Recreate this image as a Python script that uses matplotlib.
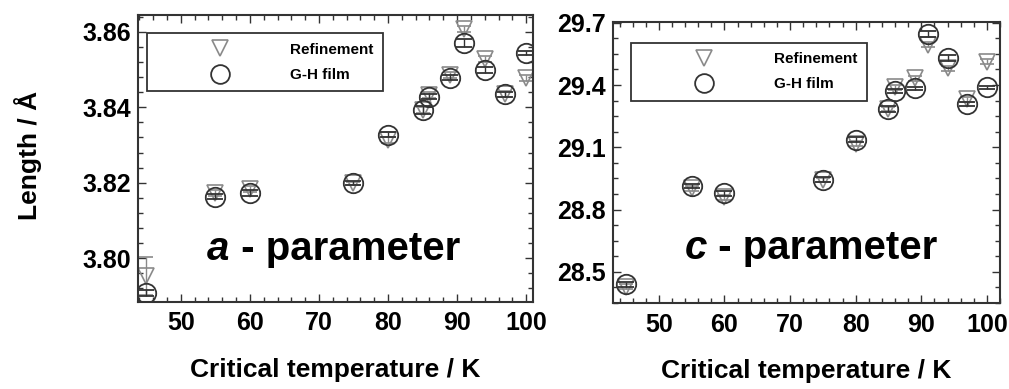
import matplotlib
matplotlib.use("Agg")
import matplotlib.pyplot as plt
from matplotlib.lines import Line2D
from matplotlib.ticker import MultipleLocator, FormatStrFormatter

plt.rcParams['font.family'] = ['Liberation Sans', 'DejaVu Sans']
plt.rcParams['font.weight'] = 'bold'

# critical temperature (K)
tc = [45, 55, 60, 75, 80, 85, 86, 89, 91, 94, 97, 100]

# a-parameter (Angstrom)
a_ref = [3.7953, 3.8172, 3.8183, 3.8199, 3.8313, 3.8393, 3.8433, 3.8486, 3.8607, 3.8527, 3.8436, 3.8477]
a_ref_err = [0.0050, 0.0008, 0.0008, 0.0004, 0.0008, 0.0008, 0.0008, 0.0008, 0.0008, 0.0008, 0.0008, 0.0008]
a_gh = [3.7909, 3.8163, 3.8174, 3.8199, 3.8327, 3.8393, 3.8428, 3.8478, 3.8570, 3.8499, 3.8434, 3.8543]
a_gh_err = [0.0008, 0.0006, 0.0008, 0.0006, 0.0006, 0.0010, 0.0006, 0.0006, 0.0010, 0.0008, 0.0006, 0.0006]

# c-parameter (Angstrom)
c_ref = [28.429, 28.903, 28.860, 28.943, 29.116, 29.285, 29.389, 29.432, 29.593, 29.481, 29.331, 29.513]
c_ref_err = [0.012, 0.012, 0.012, 0.008, 0.012, 0.010, 0.012, 0.012, 0.012, 0.012, 0.012, 0.012]
c_gh = [28.441, 28.915, 28.879, 28.943, 29.136, 29.285, 29.373, 29.384, 29.644, 29.529, 29.307, 29.389]
c_gh_err = [0.012, 0.010, 0.012, 0.012, 0.012, 0.014, 0.010, 0.008, 0.014, 0.014, 0.010, 0.006]

ref_color = '#8a8a8a'
gh_color = '#333333'

fig = plt.figure(figsize=(10.09, 3.89), dpi=100)
ax1 = fig.add_axes([0.1368, 0.2244, 0.3915, 0.737])
ax2 = fig.add_axes([0.6075, 0.2211, 0.3836, 0.7231])


def draw(ax, ref, ref_err, gh, gh_err):
    ax.errorbar(tc, ref, yerr=ref_err, fmt='v', ms=12, mfc='none', mec=ref_color, mew=1.2,
                ecolor=ref_color, elinewidth=1, capsize=5, capthick=1.2, zorder=2)
    ax.errorbar(tc, gh, yerr=gh_err, fmt='o', ms=14, mfc='none', mec=gh_color, mew=1.3,
                ecolor=gh_color, elinewidth=1, capsize=5.5, capthick=1.2, zorder=3)
    for s in ax.spines.values():
        s.set_linewidth(1.5)
        s.set_color('#333333')
    ax.tick_params(which='both', direction='in', top=True, right=True, width=1, color='#333333')
    ax.tick_params(which='major', length=6, labelsize=18)
    ax.tick_params(which='minor', length=3.5)
    ax.tick_params(axis='x', pad=7)
    ax.tick_params(axis='y', pad=5)
    ax.xaxis.set_major_locator(MultipleLocator(10))
    ax.xaxis.set_minor_locator(MultipleLocator(2))
    ax.set_xlabel('Critical temperature / K', fontsize=19, fontweight='bold', labelpad=16)


draw(ax1, a_ref, a_ref_err, a_gh, a_gh_err)
ax1.set_xlim(43.8, 101)
ax1.set_ylim(3.7885, 3.8644)
ax1.yaxis.set_major_locator(MultipleLocator(0.02))
ax1.yaxis.set_minor_locator(MultipleLocator(0.004))
ax1.yaxis.set_major_formatter(FormatStrFormatter('%.2f'))

draw(ax2, c_ref, c_ref_err, c_gh, c_gh_err)
ax2.set_xlim(43, 102)
ax2.set_ylim(28.35, 29.705)
ax2.yaxis.set_major_locator(MultipleLocator(0.3))
ax2.yaxis.set_minor_locator(MultipleLocator(0.075))
ax2.yaxis.set_major_formatter(FormatStrFormatter('%.1f'))

handles = [
    Line2D([], [], ls='none', marker='v', ms=12, mfc='none', mec=ref_color, mew=1.2),
    Line2D([], [], ls='none', marker='o', ms=13.5, mfc='none', mec=gh_color, mew=1.3),
]
labels = ['Refinement', 'G-H film']
for ax, anchor in [(ax1, (0.022, 0.936)), (ax2, (0.0457, 0.925))]:
    leg = ax.legend(handles, labels, loc='upper left', bbox_to_anchor=anchor, borderaxespad=0,
                    fancybox=False, framealpha=1, edgecolor='#333333',
                    prop={'size': 11, 'weight': 'bold'},
                    borderpad=0.6, handlelength=8.4, handletextpad=0.4, labelspacing=0.75)
    leg.get_frame().set_linewidth(1.3)

for ax, letter, pos in [(ax1, 'a', (0.175, 0.118)), (ax2, 'c', (0.186, 0.128))]:
    t = ax.text(pos[0], pos[1], letter, transform=ax.transAxes, fontsize=29,
                fontweight='bold', style='italic', va='bottom', ha='left')
    ax.annotate(' - parameter', xy=(1, 0), xycoords=t, fontsize=29,
                fontweight='bold', va='bottom', ha='left')

fig.text(28 / 1009, 1 - 155 / 389, 'Length / Å', rotation=90, fontsize=19,
         fontweight='bold', ha='center', va='center')

fig.savefig('out.png', dpi=100)
